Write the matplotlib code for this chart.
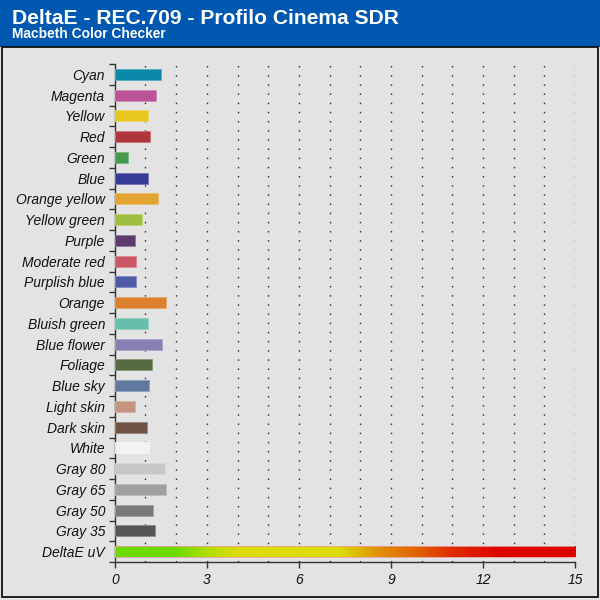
import numpy as np
import matplotlib
matplotlib.use("Agg")
import matplotlib.pyplot as plt
from matplotlib.colors import LinearSegmentedColormap, to_rgb
from matplotlib.patches import Rectangle

title = "DeltaE - REC.709 - Profilo Cinema SDR"
subtitle = "Macbeth Color Checker"

categories = ["Cyan", "Magenta", "Yellow", "Red", "Green", "Blue", "Orange yellow",
              "Yellow green", "Purple", "Moderate red", "Purplish blue", "Orange",
              "Bluish green", "Blue flower", "Foliage", "Blue sky", "Light skin",
              "Dark skin", "White", "Gray 80", "Gray 65", "Gray 50", "Gray 35"]
values = [1.51, 1.34, 1.09, 1.16, 0.42, 1.07, 1.42,
          0.89, 0.67, 0.68, 0.68, 1.66,
          1.08, 1.53, 1.20, 1.12, 0.65,
          1.06, 1.13, 1.65, 1.68, 1.25, 1.32]
colors = ["#0a8aa8", "#bb5496", "#e8c620", "#b0363e", "#459a4b", "#363c96", "#e2a332",
          "#9fbe40", "#5e3a6e", "#c85664", "#4e5aa6", "#dc8030",
          "#66bfaa", "#8880b4", "#566c40", "#60789e", "#c49480",
          "#725446", "#f2f2f2", "#c8c8c8", "#a0a0a0", "#7a7a7a", "#555555"]
scale_label = "DeltaE uV"
scale_max = 15
xticks = [0, 3, 6, 9, 12, 15]

bg = "#e3e3e3"
header = "#0058b0"
fam = ["Liberation Sans", "DejaVu Sans"]

fig = plt.figure(figsize=(6, 6), dpi=100, facecolor=bg)

# header band
fig.patches.append(Rectangle((0, 1 - 46.5 / 600), 1, 46.5 / 600, transform=fig.transFigure,
                             facecolor=header, edgecolor="none", zorder=0))
# frame
fig.patches.append(Rectangle((1.5 / 600, 3 / 600), 596.5 / 600, (600 - 46.5 - 3) / 600,
                             transform=fig.transFigure, facecolor="none",
                             edgecolor="#111111", linewidth=1.3, zorder=1))
fig.text(12 / 600, 1 - 23.5 / 600, title, color="white", fontsize=15.1, fontweight="bold",
         family=fam, va="baseline", ha="left")
fig.text(12 / 600, 1 - 37.5 / 600, subtitle, color="white", fontsize=9.9, fontweight="bold",
         family=fam, va="baseline", ha="left")

ax = fig.add_axes([114.8 / 600, 38 / 600, (575 - 114.8) / 600, (562 - 64) / 600])
ax.set_facecolor(bg)

labels = categories + [scale_label]
n = len(labels)
pos = np.arange(n)
h = 0.52

def lighten(c, f=0.3):
    r, g, b = to_rgb(c)
    return (r + (1 - r) * f, g + (1 - g) * f, b + (1 - b) * f)

ax.barh(pos[:-1], values, height=h, color=colors,
        edgecolor=[lighten(c) for c in colors], linewidth=0.6, zorder=3)

# gradient bar
gbar = ax.barh([pos[-1]], [scale_max], height=h, color="none",
               edgecolor="#e8a0a0", linewidth=0.6, zorder=4)[0]
cmap = LinearSegmentedColormap.from_list("deltae", [
    (0.0, "#6cdc00"), (2.0 / 15, "#6cdc00"), (3.0 / 15, "#b4dc00"), (4.0 / 15, "#dcdc00"),
    (7.3 / 15, "#dcdc00"), (8.6 / 15, "#e09000"), (9.9 / 15, "#e06000"),
    (10.9 / 15, "#e03000"), (12.6 / 15, "#dd0000"), (1.0, "#dd0000")])
grad = np.linspace(0, 1, 512).reshape(1, -1)
im = ax.imshow(grad, cmap=cmap, aspect="auto",
               extent=[0, scale_max, pos[-1] + h / 2, pos[-1] - h / 2], zorder=3.5)
im.set_clip_path(gbar)

ax.set_xlim(0, scale_max)
ax.set_ylim(n - 0.5, -0.5)

# grid
for gx in range(1, scale_max + 1):
    ax.axvline(gx, color="#333333", linewidth=1.0, linestyle=(0, (1.1, 5.5)), zorder=1)

ax.set_xticks(xticks)
ax.set_xticklabels([str(t) for t in xticks], fontsize=10, style="italic", family=fam,
                   color="#111111")
ax.set_yticks(np.arange(-0.5, n, 1.0))
ax.set_yticklabels([])
ax.set_yticks(pos, minor=True)
ax.set_yticklabels(labels, minor=True, fontsize=10, style="italic", family=fam,
                   color="#111111")
ax.tick_params(axis="y", which="major", length=4, width=1, color="#333333", direction="out")
ax.tick_params(axis="y", which="minor", length=0, pad=7)
ax.tick_params(axis="x", which="major", length=4, width=1, color="#333333", direction="out",
               pad=4)

for s in ["top", "right"]:
    ax.spines[s].set_visible(False)
for s in ["left", "bottom"]:
    ax.spines[s].set_color("#333333")
    ax.spines[s].set_linewidth(1.0)

fig.savefig("out.png", dpi=100, facecolor=bg)
